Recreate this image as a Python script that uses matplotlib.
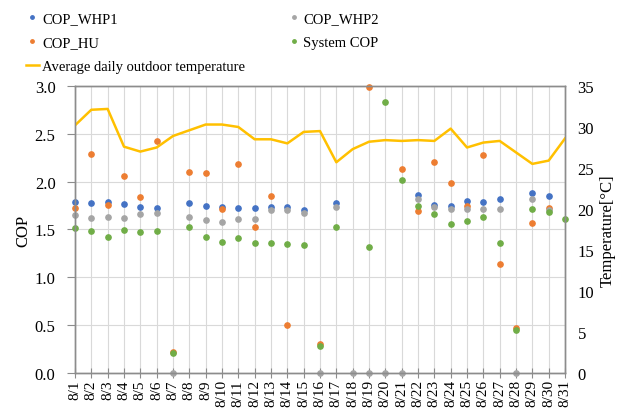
import numpy as np
import matplotlib
matplotlib.use("Agg")
import matplotlib.pyplot as plt

plt.rcParams['font.family'] = ['Liberation Serif', 'DejaVu Serif']

nan = np.nan

# days of August
days = ["8/%d" % d for d in range(1, 32)]

cop_whp1 = [1.79, 1.78, 1.79, 1.77, 1.735, 1.72, nan, 1.78, 1.745, 1.73,
            1.72, 1.72, 1.73, 1.74, 1.70, nan, 1.78, nan, nan, nan,
            nan, 1.865, 1.76, 1.75, 1.80, 1.79, 1.82, nan, 1.885, 1.85, nan]
cop_hu = [1.72, 2.285, 1.76, 2.06, 1.835, 2.43, 0.22, 2.10, 2.09, 1.71,
          2.18, 1.525, 1.85, 0.50, nan, 0.30, nan, nan, 2.99, nan,
          2.135, 1.69, 2.21, 1.99, 1.745, 2.28, 1.135, 0.47, 1.57, 1.72, nan]
cop_whp2 = [1.65, 1.62, 1.63, 1.62, 1.66, 1.675, 0.0, 1.63, 1.595, 1.58,
            1.61, 1.61, 1.70, 1.70, 1.675, 0.0, 1.74, 0.0, 0.0, 0.0,
            0.0, 1.82, 1.73, 1.71, 1.71, 1.71, 1.71, 0.0, 1.82, 1.70, nan]
system_cop = [1.52, 1.48, 1.42, 1.49, 1.47, 1.48, 0.205, 1.53, 1.42, 1.365,
              1.41, 1.36, 1.36, 1.35, 1.335, 0.28, 1.525, nan, 1.315, 2.835,
              2.02, 1.745, 1.66, 1.56, 1.585, 1.63, 1.36, 0.45, 1.71, 1.685, 1.61]
temperature = [30.2, 32.1, 32.2, 27.6, 27.0, 27.5, 28.9, 29.6, 30.3, 30.3,
               30.0, 28.5, 28.5, 28.0, 29.4, 29.5, 25.7, 27.3, 28.2, 28.4,
               28.3, 28.4, 28.3, 29.8, 27.5, 28.1, 28.3, 26.9, 25.5, 25.9, 28.6]

x = np.arange(len(days))

fig = plt.figure(figsize=(6.28, 4.14), dpi=100)
ax = fig.add_axes([0.1194, 0.0966, 0.7803, 0.6933])
ax2 = ax.twinx()

ms = 3.8
h1, = ax.plot(x, cop_whp1, 'o', color='#4472C4', ms=ms, clip_on=False)
h2, = ax.plot(x, cop_hu, 'o', color='#ED7D31', ms=ms, clip_on=False)
h3, = ax.plot(x, cop_whp2, 'o', color='#A5A5A5', ms=ms, clip_on=False)
h4, = ax.plot(x, system_cop, 'o', color='#70AD47', ms=ms, clip_on=False)
h5, = ax2.plot(x, temperature, '-', color='#FFC000', lw=1.8)

ax.set_xlim(0, 30)
ax.set_ylim(0, 3.0)
ax2.set_ylim(0, 35)
ax.set_yticks(np.arange(0, 3.01, 0.5))
ax.set_yticklabels(["%.1f" % v for v in np.arange(0, 3.01, 0.5)])
ax2.set_yticks(np.arange(0, 36, 5))
ax.set_xticks(x)
ax.set_xticklabels(days, rotation=90)

ax.grid(True, color='#d9d9d9', lw=0.8)
ax.set_axisbelow(True)

for a in (ax, ax2):
    for s in a.spines.values():
        s.set_color('#8c8c8c')
        s.set_linewidth(1.0)

ax.tick_params(axis='x', direction='inout', length=7, color='#8c8c8c',
               labelsize=11, pad=1)
ax.tick_params(axis='y', direction='out', length=6, color='#8c8c8c',
               labelsize=12, pad=8)
ax2.tick_params(axis='y', length=0, labelsize=12, pad=9)

ax.set_ylabel('COP', fontsize=12, labelpad=2)
ax2.set_ylabel('Temperature[°C]', fontsize=12, labelpad=4)

fig.legend([h1, h2, h5, h3, h4],
           ['COP_WHP1', 'COP_HU', 'Average daily outdoor temperature',
            'COP_WHP2', 'System COP'],
           loc='upper left', bbox_to_anchor=(0.025, 0.993), ncol=2,
           frameon=False, fontsize=10.5, handlelength=0.9, handletextpad=0.2,
           columnspacing=2.9, labelspacing=0.72, borderpad=0.2,
           markerscale=0.65)

fig.savefig('out.png', dpi=100)
